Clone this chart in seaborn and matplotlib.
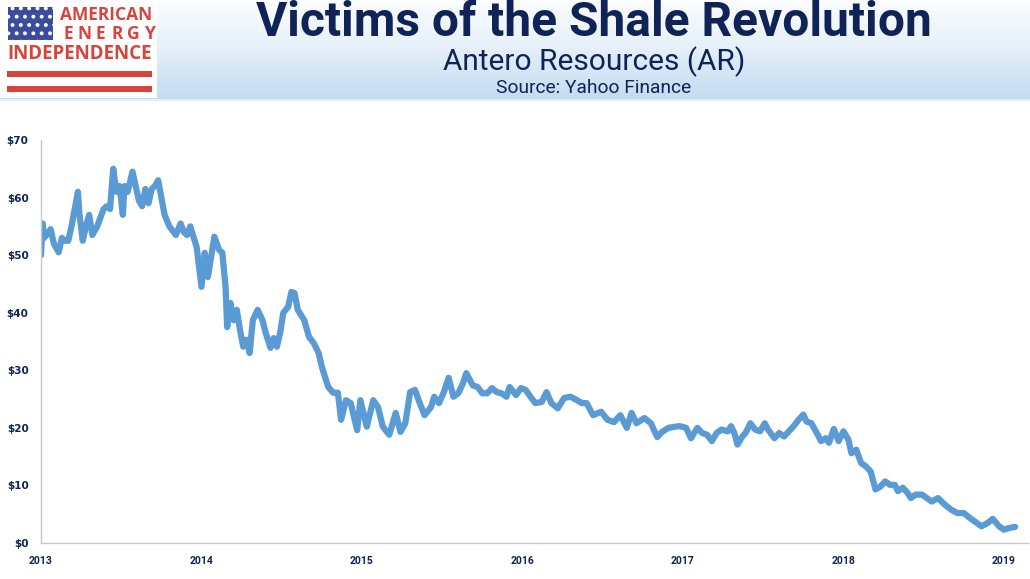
import matplotlib
matplotlib.use('Agg')

import numpy as np
import pandas as pd
import seaborn as sns
import matplotlib.pyplot as plt
from matplotlib.patches import Rectangle

# Antero Resources (AR) share price (decimal year, USD)
years = [
    2013.00, 2013.01, 2013.02, 2013.06, 2013.08, 2013.11, 2013.13, 2013.15, 2013.17, 2013.19,
    2013.21, 2013.23, 2013.24, 2013.26, 2013.28, 2013.30, 2013.32, 2013.35, 2013.37, 2013.39,
    2013.41, 2013.43, 2013.45, 2013.47, 2013.49, 2013.51, 2013.52, 2013.54, 2013.57, 2013.59,
    2013.61, 2013.63, 2013.65, 2013.67, 2013.69, 2013.71, 2013.73, 2013.75, 2013.77, 2013.80,
    2013.84, 2013.87, 2013.89, 2013.91, 2013.93, 2013.97, 2014.00, 2014.02, 2014.04, 2014.06,
    2014.08, 2014.11, 2014.13, 2014.15, 2014.16, 2014.18, 2014.20, 2014.22, 2014.24, 2014.26,
    2014.28, 2014.30, 2014.32, 2014.35, 2014.38, 2014.40, 2014.43, 2014.45, 2014.47, 2014.49,
    2014.51, 2014.54, 2014.56, 2014.58, 2014.60, 2014.64, 2014.67, 2014.70, 2014.73, 2014.75,
    2014.77, 2014.79, 2014.82, 2014.85, 2014.87, 2014.90, 2014.93, 2014.95, 2014.97, 2014.99,
    2015.03, 2015.07, 2015.10, 2015.13, 2015.17, 2015.21, 2015.24, 2015.27, 2015.30, 2015.33,
    2015.36, 2015.39, 2015.43, 2015.45, 2015.48, 2015.51, 2015.54, 2015.57, 2015.60, 2015.63,
    2015.65, 2015.69, 2015.72, 2015.75, 2015.78, 2015.81, 2015.84, 2015.87, 2015.90, 2015.92,
    2015.96, 2015.99, 2016.02, 2016.05, 2016.08, 2016.12, 2016.15, 2016.18, 2016.22, 2016.26,
    2016.30, 2016.34, 2016.37, 2016.40, 2016.44, 2016.49, 2016.53, 2016.57, 2016.61, 2016.65,
    2016.68, 2016.71, 2016.76, 2016.80, 2016.84, 2016.87, 2016.91, 2016.95, 2016.98, 2017.02,
    2017.05, 2017.09, 2017.12, 2017.15, 2017.18, 2017.21, 2017.24, 2017.28, 2017.30, 2017.32,
    2017.34, 2017.37, 2017.39, 2017.42, 2017.45, 2017.48, 2017.51, 2017.53, 2017.57, 2017.60,
    2017.63, 2017.66, 2017.69, 2017.72, 2017.75, 2017.77, 2017.80, 2017.84, 2017.86, 2017.89,
    2017.91, 2017.94, 2017.97, 2018.00, 2018.03, 2018.05, 2018.08, 2018.11, 2018.14, 2018.17,
    2018.20, 2018.23, 2018.26, 2018.29, 2018.32, 2018.34, 2018.37, 2018.40, 2018.42, 2018.45,
    2018.49, 2018.52, 2018.55, 2018.59, 2018.63, 2018.67, 2018.71, 2018.75, 2018.79, 2018.83,
    2018.86, 2018.90, 2018.93, 2018.97, 2019.00, 2019.03, 2019.07,
]
price = [
    50.0, 55.5, 53.0, 54.5, 52.0, 50.5, 53.0, 52.5, 52.5, 55.0,
    58.0, 61.0, 57.0, 52.5, 55.0, 57.0, 53.5, 55.0, 56.5, 58.0,
    58.5, 58.0, 65.0, 61.0, 62.0, 57.0, 62.0, 61.0, 64.5, 62.0,
    59.5, 58.5, 61.5, 59.0, 61.5, 62.0, 63.0, 60.0, 57.0, 55.0,
    53.5, 55.5, 54.0, 53.5, 55.0, 51.4, 44.5, 50.4, 46.2, 49.7,
    53.2, 50.9, 50.4, 44.5, 37.5, 41.7, 38.7, 40.5, 37.0, 34.1,
    35.3, 33.0, 38.7, 40.5, 38.7, 36.5, 33.9, 35.6, 34.1, 36.5,
    40.0, 41.0, 43.6, 43.4, 40.5, 38.7, 35.8, 34.7, 33.0, 30.6,
    28.8, 27.1, 26.1, 26.1, 21.4, 24.8, 24.3, 21.9, 19.6, 24.8,
    20.2, 24.8, 23.6, 20.2, 18.8, 22.6, 19.3, 20.8, 26.2, 26.6,
    24.3, 22.2, 23.6, 25.4, 24.3, 26.2, 28.7, 25.4, 26.0, 27.8,
    29.5, 27.4, 27.1, 26.0, 26.0, 26.9, 26.2, 26.0, 25.4, 27.1,
    25.7, 26.9, 26.6, 25.4, 24.3, 24.5, 26.2, 24.3, 23.4, 25.2,
    25.4, 24.8, 24.3, 24.3, 22.2, 22.8, 21.4, 21.0, 22.2, 20.0,
    22.6, 20.8, 21.7, 20.8, 18.4, 19.3, 20.0, 20.2, 20.3, 20.0,
    18.2, 20.0, 19.1, 18.8, 17.7, 19.1, 19.7, 19.4, 20.3, 19.1,
    17.1, 18.5, 19.1, 20.8, 19.7, 19.4, 20.8, 19.7, 18.2, 19.1,
    18.5, 19.4, 20.3, 21.4, 22.3, 21.1, 20.8, 18.8, 17.7, 18.2,
    17.4, 19.8, 17.7, 19.4, 18.0, 15.6, 16.2, 13.9, 13.3, 12.4,
    9.3, 9.8, 10.7, 10.1, 10.1, 9.0, 9.6, 8.7, 7.8, 8.4,
    8.4, 7.8, 7.2, 7.8, 6.7, 5.8, 5.2, 5.2, 4.3, 3.5,
    2.9, 3.5, 4.2, 2.9, 2.3, 2.6, 2.8,
]

x_ticks = [2013, 2014, 2015, 2016, 2017, 2018, 2019]
y_ticks = [0, 10, 20, 30, 40, 50, 60, 70]
y_tick_labels = ['$' + str(v) for v in y_ticks]

title = "Victims of the Shale Revolution"
subtitle = "Antero Resources (AR)"
source = "Source: Yahoo Finance"

NAVY = '#0f2356'
LINE = '#5b9bd5'
RED = '#d8443d'
narrow = ['Roboto', 'DejaVu Sans']
logo_font = ['Open Sans', 'DejaVu Sans']

sns.set_theme(style='white')
plt.rcParams['font.family'] = ['DejaVu Sans']
plt.rcParams['hatch.linewidth'] = 1.6

df = pd.DataFrame({'year': years, 'price': price})

W, H = 1030, 579
fig = plt.figure(figsize=(W / 100, H / 100), dpi=100)
fig.patch.set_facecolor('white')

# Main chart
ax = fig.add_axes([41 / W, 1 - 543 / H, (1028 - 41) / W, (543 - 140) / H])
sns.lineplot(data=df, x='year', y='price', ax=ax, color=LINE, linewidth=4.5)
ax.set_xlim(2013, 2019.15)
ax.set_ylim(0, 70)
ax.set_xticks(x_ticks)
ax.set_xticklabels([str(v) for v in x_ticks], fontsize=7.5, fontweight='bold',
                   color=NAVY, family=narrow)
ax.set_yticks(y_ticks)
ax.set_yticklabels(y_tick_labels, fontsize=7.5, fontweight='bold', color=NAVY)
ax.set_xlabel('')
ax.set_ylabel('')
for s in ['top', 'right']:
    ax.spines[s].set_visible(False)
for s in ['left', 'bottom']:
    ax.spines[s].set_color('#c8c8c8')
    ax.spines[s].set_linewidth(1.0)
ax.tick_params(axis='both', length=4, width=0.8, color='#c8c8c8', pad=5)
ax.grid(False)

# Header band, drawn in pixel coordinates
hd = fig.add_axes([0, 0, 1, 1], zorder=-1)
hd.set_xlim(0, W)
hd.set_ylim(H, 0)
hd.axis('off')
grad = np.linspace(0, 1, 100).reshape(-1, 1)
hd.imshow(grad, extent=[0, W, 100, 0], aspect='auto',
          cmap=matplotlib.colors.LinearSegmentedColormap.from_list(
              'hdr', ['#fbfdff', '#e4eff9', '#c3dbf1']))
hd.plot([0, W], [100, 100], color='#e6eef6', linewidth=1.5)

ov = fig.add_axes([0, 0, 1, 1], zorder=5)
ov.set_xlim(0, W)
ov.set_ylim(H, 0)
ov.axis('off')
ov.patch.set_alpha(0)

# Logo
ov.add_patch(Rectangle((0, 0), 157, 98, facecolor='white', edgecolor='none'))
ov.add_patch(Rectangle((8, 7), 45, 33, facecolor='#3b4c9c', edgecolor='white',
                       hatch='..', linewidth=0))
ov.text(106, 15, 'AMERICAN', ha='center', va='center', fontsize=12.5,
        fontweight='bold', color=RED, family=logo_font)
for i, ch in enumerate('ENERGY'):
    ov.text(68 + i * 16.4, 34, ch, ha='center', va='center', fontsize=12.5,
            fontweight='bold', color=RED, family=logo_font)
ov.text(80, 54, 'INDEPENDENCE', ha='center', va='center', fontsize=13.5,
        fontweight='bold', color=RED, family=logo_font)
ov.add_patch(Rectangle((7, 71), 145, 6, facecolor=RED, edgecolor='none'))
ov.add_patch(Rectangle((7, 86), 145, 6, facecolor=RED, edgecolor='none'))

# Titles
ov.text(594, 23, title, ha='center', va='center', fontsize=34.5, fontweight='bold',
        color=NAVY, family=narrow)
ov.text(594, 62, subtitle, ha='center', va='center', fontsize=21.5,
        color=NAVY, family=narrow)
ov.text(594, 88, source, ha='center', va='center', fontsize=13.8,
        color=NAVY, family=narrow)

fig.savefig('out.png', dpi=100)
plt.close(fig)
